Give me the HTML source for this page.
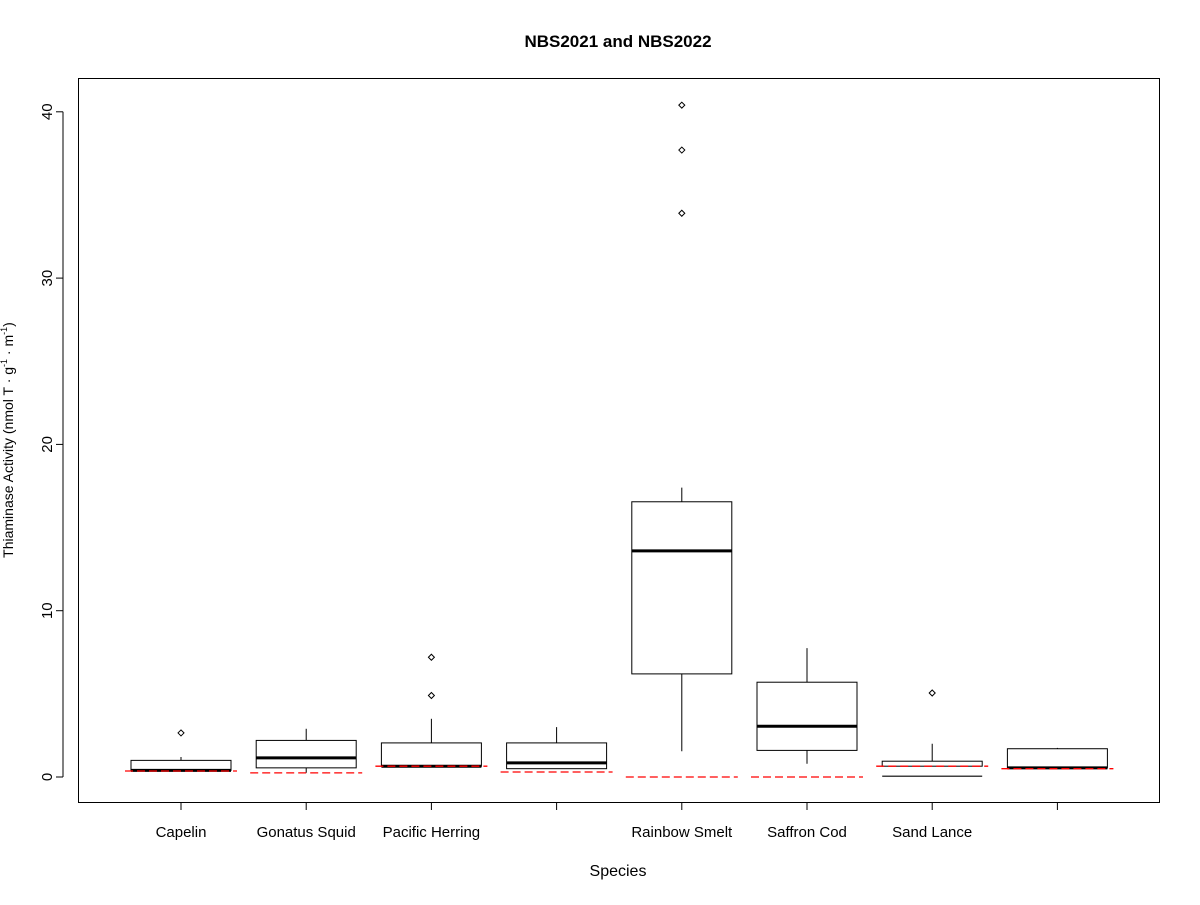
<!DOCTYPE html>
<html><head><meta charset="utf-8"><style>
html,body{margin:0;padding:0;background:#fff;}
svg text{font-family:"Liberation Sans",Arial,sans-serif;}
</style></head><body>
<svg id="chart" width="1200" height="900" xmlns="http://www.w3.org/2000/svg">
<rect width="1200" height="900" fill="#fff"/>
<text x="618" y="47" text-anchor="middle" font-size="17" font-weight="bold">NBS2021 and NBS2022</text>
<text x="618" y="876" text-anchor="middle" font-size="16">Species</text>
<text transform="translate(13,440) rotate(-90)" text-anchor="middle" font-size="14">Thiaminase Activity (nmol T · g<tspan dy="-6" font-size="9">-1</tspan><tspan dy="6"> · m</tspan><tspan dy="-6" font-size="9">-1</tspan><tspan dy="6">)</tspan></text>
<rect x="78.5" y="78.5" width="1081" height="724" fill="none" stroke="#000"/>
<g id="marks"></g>
</svg>
<script>
const categories=["Capelin","Gonatus Squid","Pacific Herring","","Rainbow Smelt","Saffron Cod","Sand Lance",""];
const q1=[0.4,0.55,0.65,0.5,6.2,1.6,0.65,0.55];
const q3=[1.0,2.2,2.05,2.05,16.55,5.7,0.95,1.7];
const medians=[0.4,1.15,0.65,0.85,13.6,3.05,0.05,0.55];
const whiskerLow=[0.4,0.25,0.65,0.5,1.55,0.8,0.65,0.55];
const whiskerHigh=[1.2,2.9,3.5,3.0,17.4,7.75,2.0,1.75];
const outliers=[[2.65],[],[4.9,7.2],[],[33.9,37.7,40.4],[],[5.05],[]];
const refLine=[0.36,0.25,0.65,0.3,0,0,0.65,0.5];
const yTicks=[0,10,20,30,40];

const NS="http://www.w3.org/2000/svg";
const g=document.getElementById('marks');
const yS=v=>777-16.63*v;
const xS=i=>181+125.2*i;
function mk(tag,a){const e=document.createElementNS(NS,tag);for(const k in a)e.setAttribute(k,a[k]);g.appendChild(e);return e;}
let ax=mk('line',{x1:63,x2:63,y1:yS(0),y2:yS(40),stroke:'#000'});


yTicks.forEach(t=>{
  const l=mk('line',{x1:56,x2:63,y1:yS(t),y2:yS(t),stroke:'#000'});
  
  
  const tx=mk('text',{transform:`translate(52,${yS(t)}) rotate(-90)`,'text-anchor':'middle','font-size':15});
  tx.textContent=t;
  
  
});
categories.forEach((c,i)=>{
  const x=xS(i),w=50;
  const tk=mk('line',{x1:x,x2:x,y1:802,y2:810,stroke:'#000'});
  
  
  if(c){const t=mk('text',{x:x,y:837,'text-anchor':'middle','font-size':15});t.textContent=c;
    
    }
  const wl=mk('line',{x1:x,x2:x,y1:yS(whiskerHigh[i]),y2:yS(whiskerLow[i]),stroke:'#000'});
  
  
  const b=mk('rect',{x:x-w,y:yS(q3[i]),width:2*w,height:yS(q1[i])-yS(q3[i]),fill:'#fff',stroke:'#000'});
  
  
  const inBox=medians[i]>=q1[i]-0.01&&medians[i]<=q3[i]+0.01;
  const m=mk('line',{x1:x-w,x2:x+w,y1:yS(medians[i]),y2:yS(medians[i]),stroke:'#000','stroke-width':inBox?3:1.2});
  
  
  outliers[i].forEach(o=>{
    const p=mk('path',{d:`M${x-3},${yS(o)} L${x},${yS(o)-3} L${x+3},${yS(o)} L${x},${yS(o)+3} Z`,fill:'none',stroke:'#000'});
    
    
  });
  const r=mk('line',{x1:x-56,x2:x+56,y1:yS(refLine[i]),y2:yS(refLine[i]),stroke:'#f00','stroke-width':1.3,'stroke-dasharray':'8,4'});
  
  
});
</script>
</body></html>
